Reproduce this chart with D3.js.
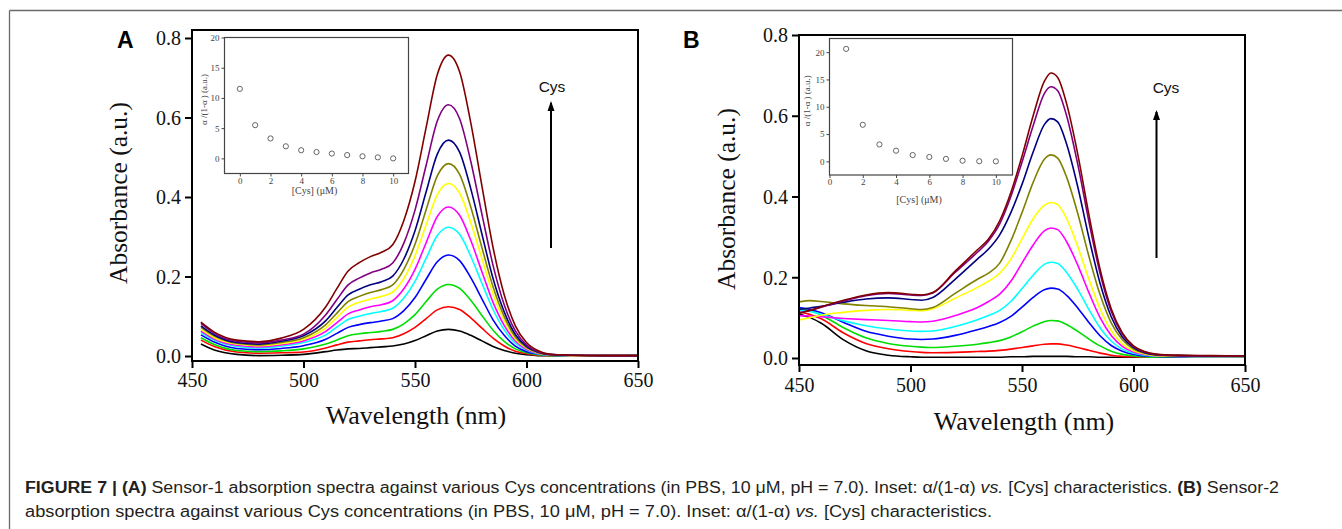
<!DOCTYPE html>
<html lang="en">
<head>
<meta charset="UTF-8">
<title>Figure 7</title>
<script src="https://cdn.jsdelivr.net/npm/d3@7"></script>
<style>
  body { margin: 0; background: #fff; }
  .serif { font-family: "Liberation Serif", "Times New Roman", serif; }
  .sans { font-family: "Liberation Sans", Arial, sans-serif; }
</style>
</head>
<body>
<svg id="fig" width="1342" height="529"></svg>
<script>
/* ---------------- data ---------------- */
// wavelengths (nm) sampled in panel A and B
const wlA = [454,460,470,480,490,500,510,515,520,525,530,535,540,545,550,555,560,565,570,575,580,585,590,595,600,605,610,620,635,650];
const wlB = [450,455,460,470,480,490,500,505,510,520,530,535,540,545,550,555,560,563,566,570,575,580,585,590,595,600,605,610,620,635,650];

// panel A absorbance, lowest to highest Cys
const A_black   = [0.030,0.015,0.004,0.001,0.002,0.004,0.011,0.015,0.018,0.019,0.021,0.023,0.025,0.030,0.039,0.051,0.063,0.067,0.063,0.052,0.038,0.024,0.014,0.007,0.003,0.001,0.001,0.000,0.000,0.000];
const A_red     = [0.040,0.024,0.010,0.007,0.008,0.010,0.020,0.028,0.035,0.038,0.041,0.043,0.046,0.056,0.072,0.094,0.116,0.124,0.117,0.096,0.070,0.045,0.025,0.012,0.006,0.002,0.001,0.001,0.001,0.001];
const A_green   = [0.046,0.029,0.014,0.011,0.013,0.018,0.030,0.040,0.051,0.056,0.059,0.062,0.067,0.081,0.104,0.137,0.168,0.180,0.170,0.140,0.102,0.065,0.037,0.018,0.008,0.003,0.001,0.001,0.001,0.001];
const A_blue    = [0.053,0.035,0.019,0.016,0.019,0.026,0.042,0.057,0.072,0.079,0.084,0.088,0.094,0.114,0.147,0.193,0.237,0.254,0.240,0.197,0.144,0.091,0.052,0.025,0.011,0.005,0.002,0.001,0.001,0.001];
const A_cyan    = [0.059,0.040,0.024,0.020,0.025,0.034,0.053,0.073,0.092,0.100,0.107,0.112,0.120,0.146,0.188,0.246,0.303,0.324,0.306,0.251,0.183,0.117,0.066,0.032,0.015,0.006,0.002,0.001,0.001,0.001];
const A_magenta = [0.063,0.043,0.027,0.023,0.028,0.038,0.062,0.084,0.106,0.116,0.124,0.129,0.139,0.169,0.218,0.285,0.351,0.375,0.354,0.291,0.212,0.135,0.077,0.038,0.017,0.007,0.003,0.001,0.001,0.001];
const A_yellow  = [0.067,0.046,0.030,0.026,0.031,0.042,0.071,0.097,0.123,0.135,0.143,0.150,0.161,0.195,0.252,0.330,0.406,0.434,0.410,0.336,0.245,0.156,0.089,0.043,0.020,0.008,0.003,0.001,0.001,0.001];
const A_olive   = [0.072,0.050,0.032,0.028,0.034,0.046,0.079,0.108,0.137,0.150,0.160,0.167,0.179,0.218,0.281,0.368,0.453,0.484,0.457,0.375,0.273,0.174,0.099,0.048,0.022,0.009,0.003,0.002,0.001,0.001];
const A_navy    = [0.076,0.053,0.034,0.030,0.037,0.051,0.089,0.122,0.154,0.168,0.179,0.187,0.201,0.244,0.315,0.413,0.508,0.543,0.513,0.421,0.307,0.195,0.111,0.054,0.024,0.010,0.004,0.002,0.001,0.001];
const A_purple  = [0.082,0.057,0.037,0.033,0.040,0.055,0.104,0.142,0.179,0.196,0.209,0.218,0.234,0.284,0.367,0.480,0.591,0.632,0.597,0.490,0.357,0.228,0.129,0.063,0.028,0.011,0.004,0.002,0.001,0.001];
const A_wine    = [0.085,0.060,0.040,0.036,0.045,0.067,0.124,0.170,0.214,0.235,0.250,0.261,0.280,0.341,0.439,0.575,0.708,0.757,0.715,0.587,0.428,0.273,0.154,0.076,0.034,0.014,0.005,0.002,0.001,0.001];

// panel B absorbance
const B_black   = [0.108,0.100,0.086,0.045,0.018,0.007,0.003,0.002,0.002,0.002,0.002,0.002,0.002,0.003,0.003,0.004,0.004,0.004,0.004,0.004,0.003,0.003,0.002,0.002,0.002,0.002,0.002,0.002,0.002,0.002,0.002];
const B_red     = [0.114,0.108,0.097,0.062,0.036,0.023,0.016,0.014,0.013,0.014,0.016,0.017,0.019,0.022,0.026,0.030,0.034,0.035,0.035,0.032,0.026,0.019,0.012,0.007,0.004,0.003,0.002,0.002,0.002,0.002,0.002];
const B_green   = [0.122,0.117,0.106,0.075,0.050,0.036,0.029,0.027,0.026,0.029,0.034,0.038,0.043,0.052,0.065,0.079,0.090,0.093,0.092,0.083,0.066,0.047,0.030,0.017,0.009,0.005,0.003,0.002,0.002,0.002,0.002];
const B_blue    = [0.125,0.120,0.112,0.088,0.066,0.054,0.047,0.046,0.047,0.056,0.070,0.078,0.088,0.103,0.126,0.150,0.169,0.173,0.171,0.155,0.124,0.088,0.055,0.031,0.017,0.009,0.005,0.004,0.003,0.003,0.003];
const B_cyan    = [0.118,0.115,0.108,0.092,0.080,0.072,0.067,0.066,0.067,0.078,0.095,0.105,0.118,0.140,0.172,0.205,0.232,0.237,0.234,0.212,0.170,0.120,0.075,0.042,0.022,0.012,0.007,0.005,0.004,0.003,0.003];
const B_magenta = [0.105,0.104,0.102,0.098,0.095,0.093,0.090,0.089,0.091,0.105,0.125,0.140,0.158,0.190,0.235,0.280,0.315,0.322,0.318,0.288,0.230,0.162,0.100,0.056,0.029,0.015,0.009,0.006,0.004,0.004,0.004];
const B_yellow  = [0.094,0.100,0.106,0.113,0.118,0.120,0.118,0.117,0.122,0.148,0.175,0.190,0.210,0.245,0.295,0.345,0.378,0.385,0.380,0.345,0.276,0.195,0.122,0.068,0.035,0.018,0.010,0.006,0.005,0.004,0.004];
const B_olive   = [0.139,0.142,0.140,0.134,0.130,0.127,0.122,0.120,0.125,0.160,0.195,0.210,0.235,0.290,0.360,0.435,0.492,0.503,0.495,0.448,0.358,0.252,0.157,0.087,0.045,0.022,0.012,0.007,0.005,0.005,0.004];
const B_navy    = [0.120,0.124,0.128,0.138,0.146,0.149,0.145,0.143,0.150,0.195,0.245,0.270,0.305,0.360,0.430,0.510,0.578,0.593,0.585,0.530,0.424,0.298,0.185,0.102,0.052,0.026,0.013,0.008,0.006,0.005,0.005];
const B_purple  = [0.112,0.118,0.126,0.141,0.154,0.160,0.156,0.155,0.161,0.212,0.262,0.290,0.332,0.400,0.485,0.575,0.655,0.672,0.662,0.600,0.480,0.338,0.210,0.116,0.059,0.029,0.015,0.009,0.006,0.005,0.005];
const B_wine    = [0.110,0.118,0.127,0.143,0.156,0.162,0.158,0.156,0.162,0.215,0.268,0.295,0.340,0.410,0.500,0.600,0.685,0.706,0.695,0.630,0.505,0.355,0.220,0.122,0.062,0.030,0.016,0.010,0.007,0.006,0.005];

const curveColors = ["#000000","#ff0000","#00dd00","#0000ff","#00ffff","#ff00ff","#ffff00","#808000","#000080","#800080","#800000"];

// insets: alpha/(1-alpha) vs [Cys]
const insetA_cys = [0,1,2,3,4,5,6,7,8,9,10];
const insetA_val = [11.5,5.5,3.3,2.0,1.35,1.05,0.8,0.55,0.35,0.17,0.0];
const insetB_cys = [1,2,3,4,5,6,7,8,9,10];
const insetB_val = [20.6,6.7,3.1,1.95,1.15,0.8,0.45,0.12,0.02,0.0];

// ticks
const wlTicks = [450,500,550,600,650];
const absTicks = [0,0.2,0.4,0.6,0.8];
const insetXTicksA = [0,2,4,6,8,10];
const insetXTicksB = [0,2,4,6,8,10];
const insetYTicksA = [0,5,10,15,20];
const insetYTicksB = [0,5,10,15,20];

/* ---------------- drawing ---------------- */
const svg = d3.select("#fig");

// figure frame (top and left rules)
svg.append("line").attr("x1", 9.5).attr("x2", 1342).attr("y1", 10.5).attr("y2", 10.5)
   .attr("stroke", "#6a6a6a").attr("stroke-width", 1.3);
svg.append("line").attr("x1", 9.5).attr("x2", 9.5).attr("y1", 10.5).attr("y2", 529)
   .attr("stroke", "#6a6a6a").attr("stroke-width", 1.3);

function drawPanel(p) {
    const g = svg.append("g");
    const x = d3.scaleLinear().domain([450, 650]).range([p.left, p.right]);
    const y = d3.scaleLinear().domain([0, 0.8]).range([p.y0, p.y8]);

    g.append("clipPath").attr("id", p.id + "-clip")
        .append("rect").attr("x", p.left).attr("y", p.top)
        .attr("width", p.right - p.left).attr("height", p.bottom - p.top);

    const line = d3.line()
        .x((d, i) => x(p.wl[i]))
        .y(d => y(d))
        .curve(d3.curveMonotoneX);

    g.append("g").attr("clip-path", `url(#${p.id}-clip)`)
        .selectAll("path")
        .data(p.series)
        .enter()
        .append("path")
        .attr("d", d => line(d))
        .attr("fill", "none")
        .attr("stroke", (d, i) => curveColors[i])
        .attr("stroke-width", 1.6);

    // x axis
    const xa = g.append("g").attr("class", "serif")
        .attr("transform", `translate(0,${p.bottom})`)
        .call(d3.axisBottom(x).tickValues(wlTicks).tickSize(7).tickSizeOuter(0));
    xa.select(".domain").remove();
    xa.selectAll("line").attr("stroke", "#000").attr("stroke-width", 2);
    xa.selectAll("text").attr("dy", null).attr("y", p.xLabY)
        .attr("font-size", 20).attr("fill", "#111").style("font-family", "Liberation Serif, serif");

    // y axis
    const ya = g.append("g")
        .attr("transform", `translate(${p.left},0)`)
        .call(d3.axisLeft(y).tickValues(absTicks).tickFormat(d3.format(".1f")).tickSize(7).tickSizeOuter(0).tickPadding(4));
    ya.select(".domain").remove();
    ya.selectAll("line").attr("stroke", "#000").attr("stroke-width", 2);
    ya.selectAll("text").attr("dy", "0.34em")
        .attr("font-size", 20).attr("fill", "#111").style("font-family", "Liberation Serif, serif");

    // frame
    g.append("rect").attr("x", p.left).attr("y", p.top)
        .attr("width", p.right - p.left).attr("height", p.bottom - p.top)
        .attr("fill", "none").attr("stroke", "#000").attr("stroke-width", 2);

    // titles
    g.append("text").attr("class", "serif")
        .attr("transform", `translate(${p.yTitle[0]},${p.yTitle[1]}) rotate(-90)`)
        .attr("text-anchor", "middle").attr("font-size", 25.5).attr("fill", "#111")
        .text("Absorbance (a.u.)");
    g.append("text").attr("class", "serif")
        .attr("x", p.xTitle[0]).attr("y", p.xTitle[1])
        .attr("text-anchor", "middle").attr("font-size", 26).attr("fill", "#111")
        .text("Wavelength (nm)");

    // panel letter
    g.append("text").attr("class", "sans")
        .attr("x", p.letter[0]).attr("y", p.letter[1])
        .attr("font-size", 23).attr("font-weight", "bold").attr("fill", "#000")
        .text(p.id);

    // Cys arrow
    g.append("line")
        .attr("x1", p.arrow[0]).attr("x2", p.arrow[0])
        .attr("y1", p.arrow[2]).attr("y2", p.arrow[1] + 2)
        .attr("stroke", "#000").attr("stroke-width", 2);
    g.append("path")
        .attr("d", `M${p.arrow[0] - 3.5},${p.arrow[1] + 10} L${p.arrow[0]},${p.arrow[1]} L${p.arrow[0] + 3.5},${p.arrow[1] + 10} Z`)
        .attr("fill", "#000");
    g.append("text").attr("class", "sans")
        .attr("x", p.cys[0]).attr("y", p.cys[1])
        .attr("text-anchor", "middle").attr("font-size", 15.5).attr("fill", "#111")
        .text("Cys");
}

function drawInset(q) {
    const g = svg.append("g");
    const x = d3.scaleLinear().domain(q.xDom).range([q.left, q.right]);
    const y = d3.scaleLinear().domain(q.yDom).range([q.bottom, q.top]);

    g.append("rect").attr("x", q.left).attr("y", q.top)
        .attr("width", q.right - q.left).attr("height", q.bottom - q.top)
        .attr("fill", "#fff").attr("stroke", "#444").attr("stroke-width", 1.2);

    const xa = g.append("g").attr("transform", `translate(0,${q.bottom})`)
        .call(d3.axisBottom(x).tickValues(q.xTicks).tickSize(3).tickSizeOuter(0).tickPadding(1));
    xa.select(".domain").remove();
    xa.selectAll("line").attr("stroke", "#444");
    xa.selectAll("text").attr("font-size", 9).attr("fill", "#444").style("font-family", "Liberation Serif, serif");

    const ya = g.append("g").attr("transform", `translate(${q.left},0)`)
        .call(d3.axisLeft(y).tickValues(q.yTicks).tickSize(3).tickSizeOuter(0).tickPadding(2));
    ya.select(".domain").remove();
    ya.selectAll("line").attr("stroke", "#444");
    ya.selectAll("text").attr("font-size", 9).attr("fill", "#444").style("font-family", "Liberation Serif, serif");

    g.selectAll("circle.pt")
        .data(q.cys)
        .enter()
        .append("circle")
        .attr("class", "pt")
        .attr("cx", d => x(d))
        .attr("cy", (d, i) => y(q.val[i]))
        .attr("r", 2.6)
        .attr("fill", "none")
        .attr("stroke", "#555")
        .attr("stroke-width", 0.9);

    g.append("text").attr("class", "serif")
        .attr("x", (q.left + q.right) / 2 - 2).attr("y", q.xTitleY)
        .attr("text-anchor", "middle").attr("font-size", 10).attr("fill", "#444")
        .text("[Cys] (μM)");
    g.append("text").attr("class", "serif")
        .attr("transform", `translate(${q.yTitleX},${(q.top + q.bottom) / 2 - 6}) rotate(-90)`)
        .attr("text-anchor", "middle").attr("font-size", 9).attr("fill", "#444")
        .text("α /(1-α ) (a.u.)");
}

drawPanel({
    id: "A", wl: wlA,
    series: [A_black, A_red, A_green, A_blue, A_cyan, A_magenta, A_yellow, A_olive, A_navy, A_purple, A_wine],
    left: 192, right: 638, top: 30, bottom: 361, y0: 356, y8: 38,
    xLabY: 26, yTitle: [127, 193], xTitle: [416, 424],
    letter: [117, 48], arrow: [551, 101, 248], cys: [552, 92]
});
drawPanel({
    id: "B", wl: wlB,
    series: [B_black, B_red, B_green, B_blue, B_cyan, B_magenta, B_yellow, B_olive, B_navy, B_purple, B_wine],
    left: 799, right: 1245, top: 35, bottom: 365, y0: 358, y8: 35,
    xLabY: 27, yTitle: [735, 199], xTitle: [1024, 430],
    letter: [683, 48], arrow: [1156.5, 110, 258], cys: [1166, 93]
});

drawInset({
    cys: insetA_cys, val: insetA_val, xTicks: insetXTicksA, yTicks: insetYTicksA,
    xDom: [-1, 11], yDom: [-2.5, 20],
    left: 224.5, right: 408.5, top: 37.5, bottom: 173.5,
    xTitleY: 194, yTitleX: 207
});
drawInset({
    cys: insetB_cys, val: insetB_val, xTicks: insetXTicksB, yTicks: insetYTicksB,
    xDom: [0, 11], yDom: [-2.5, 22.5],
    left: 829.5, right: 1012.5, top: 38.5, bottom: 175,
    xTitleY: 203, yTitleX: 810
});

/* ---------------- caption ---------------- */
const cap = svg.append("g").attr("class", "sans").attr("fill", "#231f20").attr("font-size", 16);
const line1 = cap.append("text").attr("x", 25).attr("y", 493)
    .attr("textLength", 1254).attr("lengthAdjust", "spacingAndGlyphs")
    .style("font-family", "'Liberation Sans Narrow', 'Liberation Sans', Arial, sans-serif");
line1.append("tspan").attr("font-weight", "bold").text("FIGURE 7 | (A)");
line1.append("tspan").text(" Sensor-1 absorption spectra against various Cys concentrations (in PBS, 10 μM, pH = 7.0). Inset: α/(1-α) ");
line1.append("tspan").attr("font-style", "italic").text("vs.");
line1.append("tspan").text(" [Cys] characteristics. ");
line1.append("tspan").attr("font-weight", "bold").text("(B)");
line1.append("tspan").text(" Sensor-2");

const line2 = cap.append("text").attr("x", 25).attr("y", 517)
    .attr("textLength", 967).attr("lengthAdjust", "spacingAndGlyphs")
    .style("font-family", "'Liberation Sans Narrow', 'Liberation Sans', Arial, sans-serif");
line2.append("tspan").text("absorption spectra against various Cys concentrations (in PBS, 10 μM, pH = 7.0). Inset: α/(1-α) ");
line2.append("tspan").attr("font-style", "italic").text("vs.");
line2.append("tspan").text(" [Cys] characteristics.");
</script>
</body>
</html>
